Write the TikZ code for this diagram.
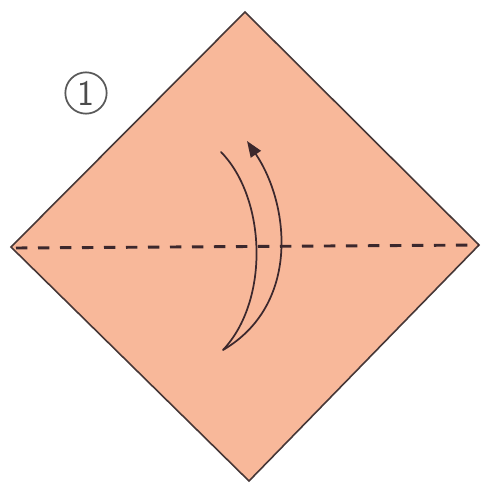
\documentclass[tikz,border=0pt]{standalone}
\usetikzlibrary{arrows.meta}
\definecolor{paper}{RGB}{248,184,154}
\definecolor{edge}{RGB}{70,55,55}
\definecolor{ink}{RGB}{60,40,45}
\tikzset{
  sheet/.style={fill=paper, draw=edge, line width=1.2pt, line join=miter},
  foldline/.style={draw=ink, line width=2.2pt, dash pattern=on 8.5pt off 8pt},
  arrowline/.style={draw=ink, line width=1.3pt},
  stepnum/.style={circle, draw=black!65, line width=1.3pt, minimum size=31pt, inner sep=0pt, font=\sffamily\fontsize{27}{27}\selectfont, text=black!70}
}
\begin{document}
\begin{tikzpicture}[x=0.75pt,y=-0.75pt]
\useasboundingbox (0,0) rectangle (480,483);
\coordinate (T) at (245,12);
\coordinate (L) at (11,247);
\coordinate (R) at (479,245);
\coordinate (B) at (249,481);
\path[sheet] (T) -- (R) -- (B) -- (L) -- cycle;
\coordinate (FL) at (16,248);
\coordinate (FR) at (479,245);
\path[foldline] (FL) -- (FR);
\coordinate (A0) at (221,152);
\coordinate (A1) at (223,350);
\coordinate (A2) at (247,141);
\path[arrowline, line cap=round] (A0) .. controls (266,198) and (270,300) .. (A1);
\path[arrowline, -{Triangle[length=12pt,width=9pt]}] (A1) .. controls (300,305) and (290,205) .. (A2);
\node[stepnum] (n1) at (86,93) {1};
\end{tikzpicture}
\end{document}
